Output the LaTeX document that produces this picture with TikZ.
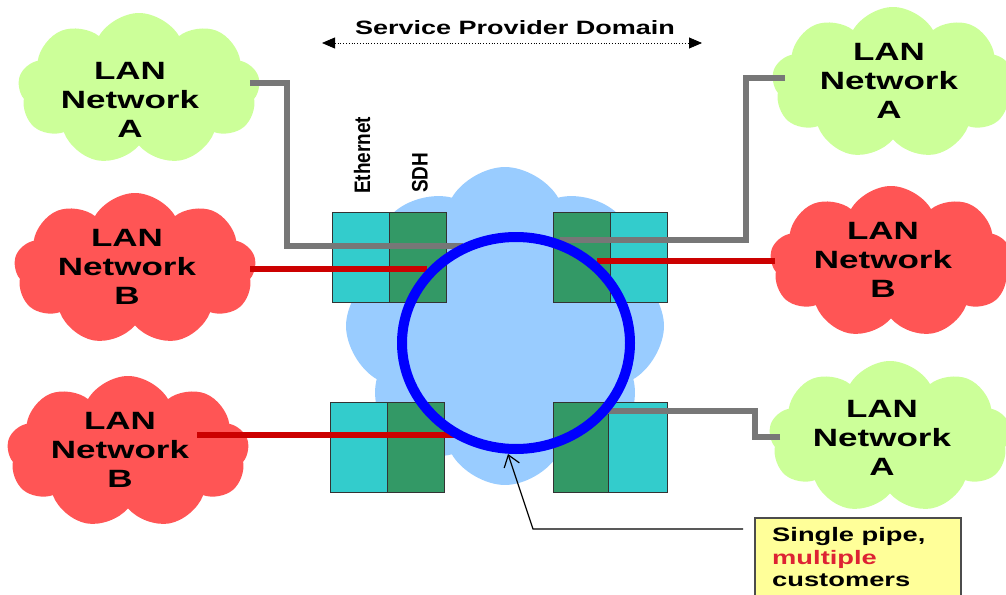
\documentclass[tikz,border=0pt]{standalone}
\usepackage{fontspec}
\setmainfont{Liberation Sans}
\newfontfamily\wide{Liberation Sans}[FakeStretch=1.4]
\usetikzlibrary{shapes.symbols,shapes.geometric,arrows.meta}
\definecolor{lgreen}{HTML}{CCFF99}
\definecolor{lred}{HTML}{FF5555}
\definecolor{lblue}{HTML}{99CCFF}
\definecolor{cyanbox}{HTML}{33CCCC}
\definecolor{greenbox}{HTML}{339966}
\definecolor{grayline}{HTML}{777777}
\definecolor{redline}{HTML}{CC0000}
\definecolor{ybox}{HTML}{FFFF99}
\definecolor{mred}{HTML}{DD2233}
\begin{document}
\begin{tikzpicture}[x=1pt,y=-1pt,
  lancloud/.style={cloud, cloud puffs=9, cloud puff arc=120, aspect=1.6, draw=none, inner sep=0,
    minimum width=242, minimum height=152},
  lantext/.style={align=center, inner sep=0, font=\wide\bfseries\fontsize{25}{29}\selectfont},
  sbox/.style={draw=black!80, line width=1.2, minimum width=57, minimum height=90,
    inner sep=0, anchor=north west},
  gline/.style={draw=grayline, line width=6},
  rline/.style={draw=redline, line width=5.5},
  vlabel/.style={rotate=90, anchor=west, inner sep=0, font=\bfseries\fontsize{20}{20}\selectfont},
  pointer/.style={draw=black, line width=1.2, -{Straight Barb[length=11,width=16]}}
]
\useasboundingbox (0,0) rectangle (1006,594);

% provider cloud
\node[cloud, cloud puffs=8, cloud puff arc=120, aspect=1, draw=none, fill=lblue, inner sep=0,
  minimum width=318, minimum height=318] (sp) at (505,326) {};

% LAN clouds
\node[lancloud, fill=lgreen] (cA1) at (139,89) {};
\node[lancloud, fill=lred]   (cB1) at (135,269) {};
\node[lancloud, fill=lred]   (cB2) at (128,452) {};
\node[lancloud, fill=lgreen] (cA2) at (893,83) {};
\node[lancloud, fill=lred]   (cB3) at (891,262) {};
\node[lancloud, fill=lgreen] (cA3) at (890,437) {};

% interface boxes
\node[sbox, fill=cyanbox]  (tl1) at (332,212) {};
\node[sbox, fill=greenbox] (tl2) at (389,212) {};
\node[sbox, fill=greenbox] (tr1) at (553,212) {};
\node[sbox, fill=cyanbox]  (tr2) at (610,212) {};
\node[sbox, fill=cyanbox]  (bl1) at (330,402) {};
\node[sbox, fill=greenbox] (bl2) at (387,402) {};
\node[sbox, fill=greenbox, minimum width=55] (br1) at (553,402) {};
\node[sbox, fill=cyanbox, minimum width=59]  (br2) at (608,402) {};

% connector end points
\coordinate (g1s) at (250,83);
\coordinate (g1e) at (463,246);
\coordinate (g2s) at (785,78);
\coordinate (g2e) at (560,240);
\coordinate (g3s) at (780,437);
\coordinate (g3e) at (608,411);
\coordinate (r1s) at (250,269);
\coordinate (r1e) at (427,269);
\coordinate (r2s) at (775,261);
\coordinate (r2e) at (597,261);
\coordinate (r3s) at (197,435);
\coordinate (r3e) at (462,435);

\draw[gline] (g1s) -- ++(37,0) |- (g1e);
\draw[gline] (g2s) -- ++(-39,0) |- (g2e);
\draw[gline] (g3s) -- ++(-25,0) |- (g3e);
\draw[rline] (r1s) -- (r1e);
\draw[rline] (r2s) -- (r2e);
\draw[rline] (r3s) -- (r3e);

% single pipe ring
\node[ellipse, draw=blue, line width=10, inner sep=0,
  minimum width=228, minimum height=212] (ring) at (516,343) {};

% texts in clouds
\node[lantext] (tA1) at (130,100) {LAN\\Network\\A};
\node[lantext] (tB1) at (127,267) {LAN\\Network\\B};
\node[lantext] (tB2) at (120,450) {LAN\\Network\\B};
\node[lantext] (tA2) at (889,81) {LAN\\Network\\A};
\node[lantext] (tB3) at (883,260) {LAN\\Network\\B};
\node[lantext] (tA3) at (882,438) {LAN\\Network\\A};

% layer labels
\node[vlabel] (eth) at (362,194) {\scalebox{0.95}[1.12]{Ethernet}};
\node[vlabel] (sdh) at (420,193) {\scalebox{0.95}[1.12]{SDH}};

% title and domain arrow
\node[anchor=base, inner sep=0, font=\wide\bfseries\fontsize{19.3}{23}\selectfont] (title) at (515,35) {Service Provider Domain};
\coordinate (dl) at (322,43);
\coordinate (dr) at (702,43);
\draw[dotted, line width=0.8, {Triangle[length=13,width=11]}-{Triangle[length=13,width=11]}] (dl) -- (dr);

% note box
\node[draw=black!70, line width=1.5, fill=ybox, anchor=north west, inner sep=0,
  minimum width=206, minimum height=100] (nbox) at (754,517) {};
\node[anchor=north west, align=left, inner sep=0,
  font=\wide\bfseries\fontsize{19.5}{22.7}\selectfont] (note) at (772,527)
  {Single pipe,\\\textcolor{mred}{multiple}\\customers};

% pointer
\coordinate (pa) at (743,529);
\coordinate (tip) at (508,454);
\draw[pointer] (pa) -- (533,529) -- (tip);
\end{tikzpicture}
\end{document}
